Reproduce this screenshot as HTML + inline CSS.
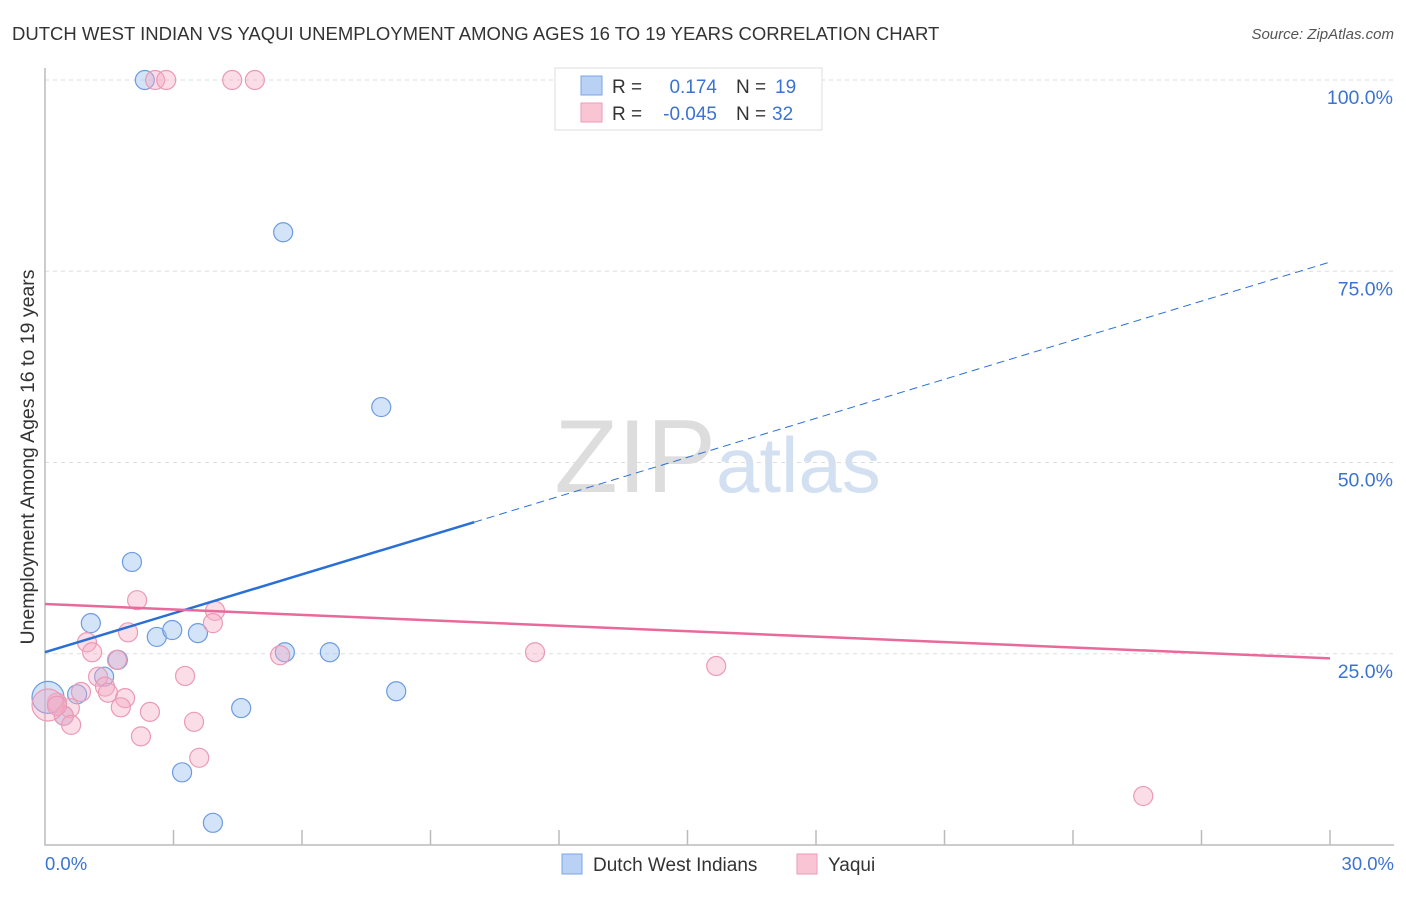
<!DOCTYPE html>
<html><head><meta charset="utf-8"><style>
body{margin:0;background:#fff;font-family:"Liberation Sans",sans-serif;}
svg text{font-family:"Liberation Sans",sans-serif;}
</style></head><body>
<svg width="1406" height="892">
<text x="12" y="40" font-size="18.5" fill="#333">DUTCH WEST INDIAN VS YAQUI UNEMPLOYMENT AMONG AGES 16 TO 19 YEARS CORRELATION CHART</text>
<text x="1394" y="39" font-size="15" fill="#555" font-style="italic" text-anchor="end">Source: ZipAtlas.com</text>
<text x="716" y="492" font-size="104" fill="#ddd" text-anchor="end" font-family="Liberation Serif">ZIP</text>
<text x="716" y="492" font-size="78" fill="#d3e0f2">atlas</text>
<g id="grid"></g>
<g id="axes"></g>
<g id="pts"></g>
<g id="lines"></g>
<text transform="translate(34,457) rotate(-90)" font-size="19.5" fill="#333" text-anchor="middle">Unemployment Among Ages 16 to 19 years</text>
<text x="45" y="870" font-size="18.5" fill="#3b73d1">0.0%</text>
<text x="1394" y="870" font-size="18.5" fill="#3b73d1" text-anchor="end">30.0%</text>
<g>
<rect x="555" y="68" width="267" height="62" fill="#fff" stroke="#ddd"/>
<rect x="581" y="76" width="21" height="19" fill="#b8d1f5" stroke="#7aa5e6"/>
<rect x="581" y="103" width="21" height="19" fill="#f9c5d5" stroke="#ee9ab5"/>
<text x="612" y="93" font-size="19" fill="#333">R =</text>
<text x="717" y="93" font-size="19" fill="#3b73d1" text-anchor="end">0.174</text>
<text x="736" y="93" font-size="19" fill="#333">N =</text>
<text x="775" y="93" font-size="19" fill="#3b73d1">19</text>
<text x="612" y="120" font-size="19" fill="#333">R =</text>
<text x="717" y="120" font-size="19" fill="#3b73d1" text-anchor="end">-0.045</text>
<text x="736" y="120" font-size="19" fill="#333">N =</text>
<text x="772" y="120" font-size="19" fill="#3b73d1">32</text>
</g>
<g>
<rect x="562" y="854" width="20" height="20" fill="#b8d1f5" stroke="#7aa5e6"/>
<text x="593" y="871" font-size="19" fill="#333">Dutch West Indians</text>
<rect x="797" y="854" width="20" height="20" fill="#f9c5d5" stroke="#ee9ab5"/>
<text x="828" y="871" font-size="19" fill="#333">Yaqui</text>
</g>
</svg>
<script>
const yTicks=[25,50,75,100];
const yTickLabels=["25.0%","50.0%","75.0%","100.0%"];
const xTicks=[0,3,6,9,12,15,18,21,24,27,30];
const blueX=[2.33,5.56,7.85,2.03,1.07,2.61,2.97,3.57,5.60,6.65,1.70,1.38,0.75,8.20,4.58,0.44,3.20,3.92,0.07];
const blueY=[100,80.1,57.25,37.0,29.0,27.2,28.1,27.7,25.2,25.2,24.2,22.0,19.7,20.1,17.9,16.9,9.5,2.9,19.3];
const blueR=[9.5,9.5,9.5,9.5,9.5,9.5,9.5,9.5,9.5,9.5,9.5,9.5,9.5,9.5,9.5,9.5,9.5,9.5,16];
const pinkX=[2.57,2.83,4.37,4.90,2.15,3.97,3.92,1.94,0.98,1.10,1.68,5.49,11.44,15.67,3.27,1.24,1.40,0.84,1.47,1.87,1.77,2.45,0.28,0.58,0.44,0.61,3.48,2.24,3.60,25.64,0.07,0.28];
const pinkY=[100,100,100,100,32.0,30.6,29.0,27.8,26.5,25.2,24.2,24.8,25.2,23.4,22.1,22.0,20.7,20.0,19.9,19.2,18.0,17.4,18.6,17.9,16.9,15.7,16.1,14.2,11.4,6.4,18.3,18.2];
const pinkR=[9.5,9.5,9.5,9.5,9.5,9.5,9.5,9.5,9.5,9.5,9.5,9.5,9.5,9.5,9.5,9.5,9.5,9.5,9.5,9.5,9.5,9.5,9.5,9.5,9.5,9.5,9.5,9.5,9.5,9.5,16,9.5];
const blueTrend=[25.2,42.2,76.2];
const blueTrendX=[0,10.02,30];
const pinkTrend=[31.5,24.4];
const pinkTrendX=[0,30];
const NS="http://www.w3.org/2000/svg";
const sx=v=>45+v*1285/30, sy=v=>845-v*7.65;
function mk(t,a,p){const e=document.createElementNS(NS,t);for(const k in a)e.setAttribute(k,a[k]);p.appendChild(e);return e;}
const grid=document.getElementById('grid'),axes=document.getElementById('axes'),pts=document.getElementById('pts'),lines=document.getElementById('lines');
yTicks.forEach((v,i)=>{
 const l=mk('line',{x1:45,x2:1394,y1:sy(v),y2:sy(v),stroke:'#ddd','stroke-dasharray':'4,4'},grid);
 
 
 const t=mk('text',{x:1393,y:sy(v)+24,'font-size':19.5,fill:'#3b73d1','text-anchor':'end'},grid);
 t.textContent=yTickLabels[i];
 
 
});
const ax=mk('path',{d:'M45 68V845H1394',fill:'none',stroke:'#bbb','stroke-width':1.5},axes);


xTicks.slice(1).forEach(v=>{
 const l=mk('line',{x1:sx(v),x2:sx(v),y1:830,y2:845,stroke:'#bbb','stroke-width':1.5},axes);
 
 
});
function dots(X,Y,R,fill,stroke,name){X.forEach((x,i)=>{
 const c=mk('circle',{cx:sx(x),cy:sy(Y[i]),r:R[i],fill:fill,stroke:stroke,'stroke-width':1.2},pts);
 
 
});}
dots(blueX,blueY,blueR,'rgba(160,195,240,0.45)','#6d9be0','dutch-west-indian-point');
dots(pinkX,pinkY,pinkR,'rgba(245,170,195,0.4)','#eb9ab5','yaqui-point');
let l=mk('line',{x1:sx(blueTrendX[0]),y1:sy(blueTrend[0]),x2:sx(blueTrendX[1]),y2:sy(blueTrend[1]),stroke:'#2a6fd6','stroke-width':2.5},lines);


l=mk('line',{x1:sx(blueTrendX[1]),y1:sy(blueTrend[1]),x2:sx(blueTrendX[2]),y2:sy(blueTrend[2]),stroke:'#2a6fd6','stroke-width':1,'stroke-dasharray':'8,5'},lines);


l=mk('line',{x1:sx(pinkTrendX[0]),y1:sy(pinkTrend[0]),x2:sx(pinkTrendX[1]),y2:sy(pinkTrend[1]),stroke:'#e8699a','stroke-width':2.5},lines);


</script>
</body></html>
